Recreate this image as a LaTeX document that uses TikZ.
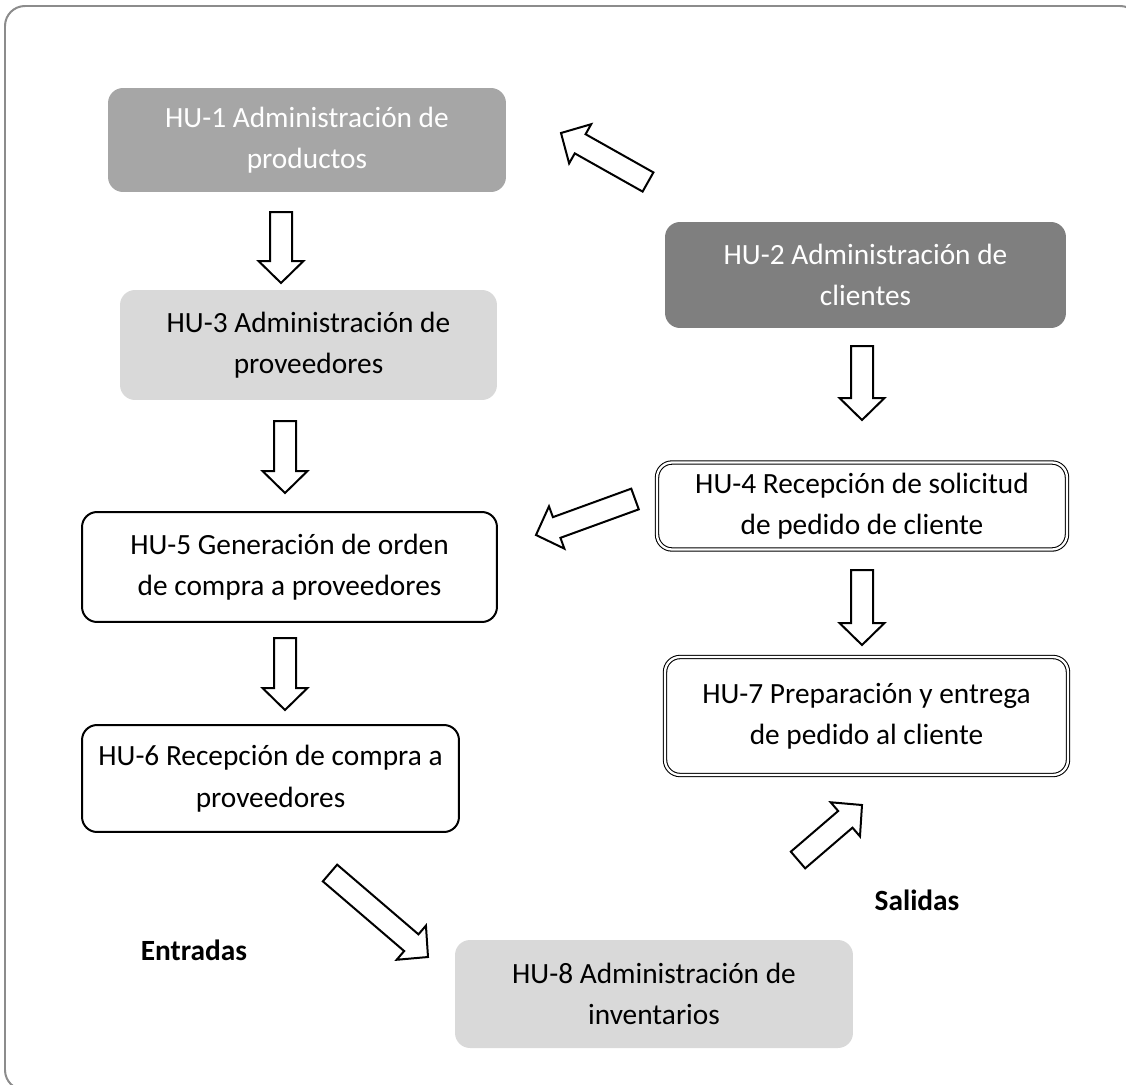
\documentclass[tikz,border=0pt]{standalone}
\usepackage{fontspec}
\setmainfont{Carlito}
\usetikzlibrary{calc}

\definecolor{midgray}{HTML}{A6A6A6}
\definecolor{darkgray}{HTML}{7F7F7F}
\definecolor{lightgray}{HTML}{D9D9D9}
\definecolor{framegray}{HTML}{8C8C8C}

% hollow block arrow from #1 (tail) to #2 (tip)
\newcommand\hollowarrow[2]{%
  \coordinate (hb) at ($(#2)!0.44cm!(#1)$);
  \draw[blockarrow] ($(#1)!0.22cm!90:(#2)$) -- ($(hb)!0.22cm!90:(#2)$)
    -- ($(hb)!0.45cm!90:(#2)$) -- (#2) -- ($(hb)!0.45cm!-90:(#2)$)
    -- ($(hb)!0.22cm!-90:(#2)$) -- ($(#1)!0.22cm!-90:(#2)$) -- cycle;}

\begin{document}
\begin{tikzpicture}[
        x = 0.02cm, y = -0.02cm,
every node/.style = {font=\fontsize{16.7}{23.6}\selectfont, align=center},
        box/.style = {rectangle, draw=none, fill=#1, rounded corners=0.3cm,
                      inner sep=0pt},
   plainbox/.style = {rectangle, draw, line width=0.04cm, fill=white,
                      rounded corners=0.3cm, inner sep=0pt},
     dblbox/.style = {rectangle, draw, double, line width=0.6pt,
                      double distance=1.3pt, rounded corners=0.3cm, inner sep=0pt},
 blockarrow/.style = {draw, line width=0.04cm, fill=white, line join=miter},
        tag/.style = {font=\fontsize{16.7}{23.6}\selectfont\bfseries}
                        ]
\useasboundingbox (0,0) rectangle (1126,1085);
\draw[framegray, line width=0.04cm, rounded corners=0.4cm] (5,6) rectangle (1140,1090);

% stories
\node (hu1) [box=midgray, text=white, minimum width=7.96cm, minimum height=2.08cm]
      at (307,140) {HU-1 Administración de\\ productos};
\node (hu2) [box=darkgray, text=white, minimum width=8.02cm, minimum height=2.12cm]
      at (865.5,275) {HU-2 Administración de\\ clientes};
\node (hu3) [box=lightgray, minimum width=7.54cm, minimum height=2.2cm]
      at (308.5,345) {HU-3 Administración de\\ proveedores};
\node (hu4) [dblbox, minimum width=8.2cm, minimum height=1.74cm]
      at (862,506) {HU-4 Recepción de solicitud\\ de pedido de cliente};
\node (hu5) [plainbox, minimum width=8.3cm, minimum height=2.2cm]
      at (289.5,567) {HU-5 Generación de orden\\ de compra a proveedores};
\node (hu6) [plainbox, minimum width=7.54cm, minimum height=2.14cm]
      at (270.5,778.5) {HU-6 Recepción de compra a\\ proveedores};
\node (hu7) [dblbox, minimum width=8.06cm, minimum height=2.36cm]
      at (866.5,716) {HU-7 Preparación y entrega\\ de pedido al cliente};
\node (hu8) [box=lightgray, minimum width=7.96cm, minimum height=2.16cm]
      at (654,994) {HU-8 Administración de\\ inventarios};

\node (in) [tag] at (194,950) {Entradas};
\node (out) [tag] at (917,900) {Salidas};

% arrow ends
\coordinate (t13) at (281,212);  \coordinate (h13) at (281,283);
\coordinate (t35) at (285,421);  \coordinate (h35) at (285,493);
\coordinate (t56) at (285,638);  \coordinate (h56) at (285,710);
\coordinate (t24) at (862,346);  \coordinate (h24) at (862,420);
\coordinate (t47) at (862,570);  \coordinate (h47) at (862,645);
\coordinate (t21) at (648,182);  \coordinate (h21) at (561,133);
\coordinate (t45) at (635,499);  \coordinate (h45) at (536,535);
\coordinate (t68) at (330,873);  \coordinate (h68) at (428,957);
\coordinate (t87) at (798,860);  \coordinate (h87) at (862,805);

\hollowarrow{t13}{h13}
\hollowarrow{t35}{h35}
\hollowarrow{t56}{h56}
\hollowarrow{t24}{h24}
\hollowarrow{t47}{h47}
\hollowarrow{t21}{h21}
\hollowarrow{t45}{h45}
\hollowarrow{t68}{h68}
\hollowarrow{t87}{h87}
\end{tikzpicture}
\end{document}
